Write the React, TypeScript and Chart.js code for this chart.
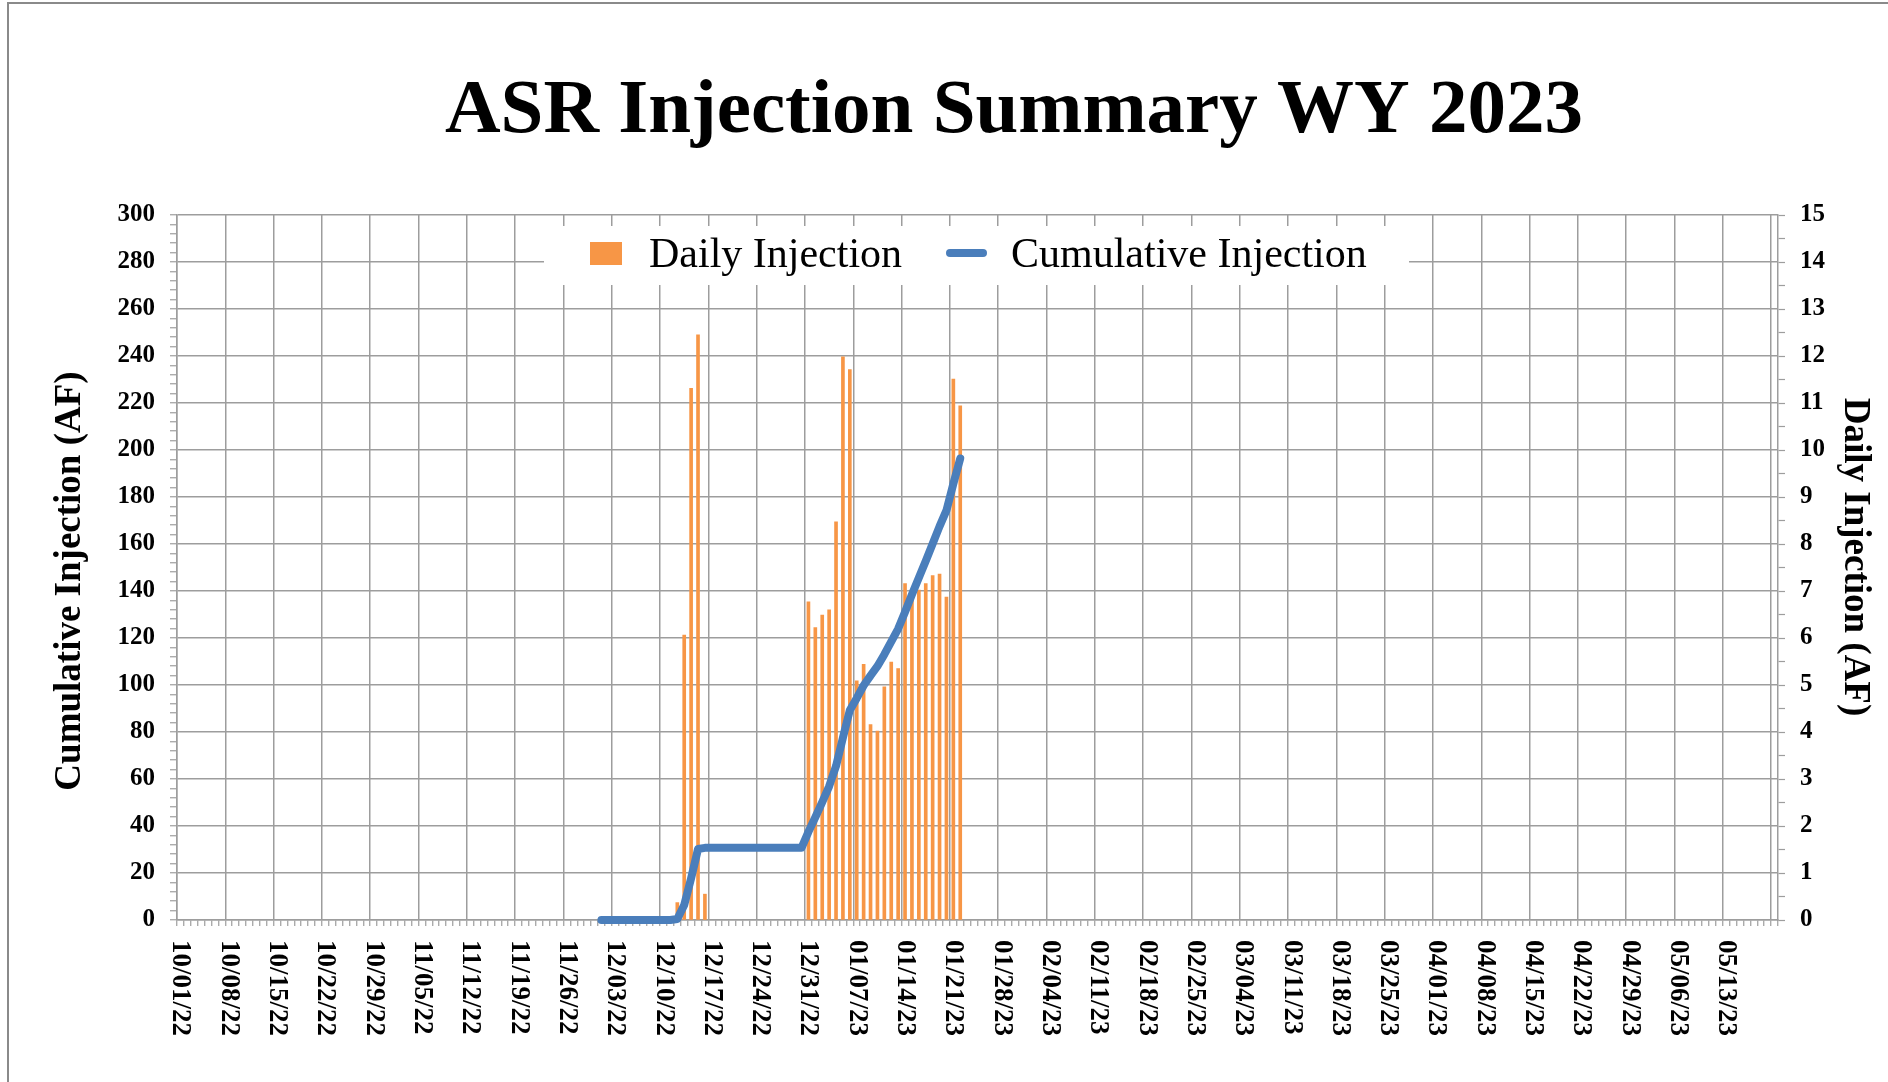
import React, { useEffect, useRef } from 'react';
import { Chart, registerables } from 'chart.js';

Chart.register(...registerables);

// ---------- data ----------
const xTickLabels = [
  '10/01/22', '10/08/22', '10/15/22', '10/22/22', '10/29/22', '11/05/22', '11/12/22',
  '11/19/22', '11/26/22', '12/03/22', '12/10/22', '12/17/22', '12/24/22', '12/31/22',
  '01/07/23', '01/14/23', '01/21/23', '01/28/23', '02/04/23', '02/11/23', '02/18/23',
  '02/25/23', '03/04/23', '03/11/23', '03/18/23', '03/25/23', '04/01/23', '04/08/23',
  '04/15/23', '04/22/23', '04/29/23', '05/06/23', '05/13/23',
];
const axisStartDate = '10/01/22';
const axisEndDate = '05/20/23';

const dailyDates = [
  '12/12/22', '12/13/22', '12/14/22', '12/15/22', '12/16/22',
  '12/31/22', '01/01/23', '01/02/23', '01/03/23', '01/04/23', '01/05/23', '01/06/23',
  '01/07/23', '01/08/23', '01/09/23', '01/10/23', '01/11/23', '01/12/23', '01/13/23',
  '01/14/23', '01/15/23', '01/16/23', '01/17/23', '01/18/23', '01/19/23', '01/20/23',
  '01/21/23', '01/22/23',
];
const dailyValues = [
  0.37, 6.06, 11.31, 12.45, 0.55,
  6.77, 6.22, 6.49, 6.60, 8.47, 11.98, 11.71,
  5.09, 5.44, 4.16, 4.02, 4.96, 5.49, 5.35,
  7.16, 7.0, 7.02, 7.16, 7.33, 7.36, 6.87,
  11.51, 10.94,
];

const cumulativeStartDate = '12/01/22';
const cumulativeValues = [
  0, 0, 0, 0, 0, 0, 0, 0, 0, 0, 0,
  0.4, 6.4, 17.8, 30.2,
  30.7, 30.7, 30.7, 30.7, 30.7, 30.7, 30.7, 30.7, 30.7, 30.7, 30.7, 30.7, 30.7, 30.7, 30.7,
  37.5, 43.7, 50.2, 56.9, 65.5, 77.6, 89.3,
  94.4, 99.8, 104.0, 108.0, 113.0, 118.5, 123.9,
  131.1, 138.5, 145.6, 152.8, 160.1, 167.5, 174.3,
  185.6, 196.4,
];

const leftMax = 300;
const leftMajor = 20;
const leftMinor = 4;
const rightMax = 15;
const rightMinor = 0.5;

// ---------- style ----------
const SERIF = '"Liberation Serif", "Times New Roman", Times, serif';
const GRID = '#9d9d9d';
const BAR = '#F79646';
const LINE = '#4A7EBB';

function dayIndex(s: string): number {
  const [m, d, y] = s.split('/').map(Number);
  const [m0, d0, y0] = axisStartDate.split('/').map(Number);
  return Math.round((Date.UTC(2000 + y, m - 1, d) - Date.UTC(2000 + y0, m0 - 1, d0)) / 86400000);
}

const decorPlugin = {
  id: 'decor',
  afterDraw(chart: any) {
    const ctx = chart.ctx as CanvasRenderingContext2D;
    const xs = chart.scales.x;
    ctx.save();

    // outer frame (top + left edges visible)
    ctx.strokeStyle = '#8a8a8a';
    ctx.lineWidth = 2;
    ctx.beginPath();
    ctx.moveTo(8, 1082);
    ctx.lineTo(8, 3);
    ctx.lineTo(1888, 3);
    ctx.stroke();

    // title
    ctx.fillStyle = '#000';
    ctx.font = `bold 77px ${SERIF}`;
    ctx.textAlign = 'left';
    ctx.textBaseline = 'alphabetic';
    ctx.fillText('ASR Injection Summary WY 2023', 445, 132);

    // x tick labels (rotated clockwise)
    ctx.font = `bold 27px ${SERIF}`;
    ctx.textBaseline = 'middle';
    ctx.textAlign = 'left';
    for (const lab of xTickLabels) {
      const px = xs.getPixelForValue(dayIndex(lab));
      ctx.save();
      ctx.translate(px, 940);
      ctx.rotate(Math.PI / 2);
      ctx.fillText(lab, 0, 0);
      ctx.restore();
    }

    // axis titles
    ctx.font = `bold 37px ${SERIF}`;
    ctx.textAlign = 'center';
    ctx.textBaseline = 'middle';
    ctx.save();
    ctx.translate(70, 581);
    ctx.rotate(-Math.PI / 2);
    ctx.fillText('Cumulative Injection (AF)', 0, 0);
    ctx.restore();
    ctx.save();
    ctx.translate(1855, 557);
    ctx.rotate(Math.PI / 2);
    ctx.fillText('Daily Injection (AF)', 0, 0);
    ctx.restore();

    // legend
    ctx.fillStyle = '#ffffff';
    ctx.fillRect(544, 226, 865, 59);
    ctx.fillStyle = BAR;
    ctx.fillRect(590, 242, 32, 23);
    ctx.strokeStyle = LINE;
    ctx.lineWidth = 8;
    ctx.lineCap = 'round';
    ctx.beginPath();
    ctx.moveTo(950, 253);
    ctx.lineTo(983, 253);
    ctx.stroke();
    ctx.fillStyle = '#000';
    ctx.font = `42px ${SERIF}`;
    ctx.textAlign = 'left';
    ctx.textBaseline = 'alphabetic';
    ctx.fillText('Daily Injection', 649, 267);
    ctx.fillText('Cumulative Injection', 1011, 267);

    ctx.restore();
  },
};

export default function App() {
  const ref = useRef<HTMLCanvasElement | null>(null);

  useEffect(() => {
    if (!ref.current) return;
    const cumStart = dayIndex(cumulativeStartDate);
    const chart = new Chart(ref.current, {
      type: 'bar',
      data: {
        datasets: [
          {
            type: 'line',
            label: 'Cumulative Injection',
            data: cumulativeValues.map((v, i) => ({ x: cumStart + i, y: v })),
            yAxisID: 'y',
            borderColor: LINE,
            backgroundColor: LINE,
            borderWidth: 8,
            pointRadius: 0,
            tension: 0,
            borderCapStyle: 'round',
            borderJoinStyle: 'round',
            clip: false,
            order: 0,
          } as any,
          {
            type: 'bar',
            label: 'Daily Injection',
            data: dailyDates.map((d, i) => ({ x: dayIndex(d), y: dailyValues[i] })),
            yAxisID: 'y1',
            backgroundColor: BAR,
            borderWidth: 0,
            barThickness: 3,
            order: 1,
          } as any,
        ],
      },
      options: {
        responsive: false,
        animation: false,
        devicePixelRatio: 1,
        layout: { padding: { top: 215, left: 0, right: 0, bottom: 0 } },
        plugins: {
          legend: { display: false },
          title: { display: false },
          tooltip: { enabled: false },
        },
        scales: {
          x: {
            type: 'linear',
            position: 'bottom',
            min: 0,
            max: dayIndex(axisEndDate),
            ticks: { stepSize: 1, autoSkip: false, display: false },
            grid: {
              color: (c: any) => (c.tick && Math.round(c.tick.value) % 7 === 0 ? GRID : 'rgba(0,0,0,0)'),
              tickColor: GRID,
              lineWidth: 1.5,
              tickWidth: 1.2,
              tickLength: 6,
              drawTicks: true,
            },
            border: { display: true, color: GRID, width: 1.5 },
            afterFit: (s: any) => { s.height = 162; },
          },
          y: {
            type: 'linear',
            position: 'left',
            min: 0,
            max: leftMax,
            ticks: {
              stepSize: leftMinor,
              autoSkip: false,
              padding: 15,
              color: '#000',
              font: { family: SERIF, size: 25, weight: 'bold' },
              callback: (v: any) => (Math.round(Number(v)) % leftMajor === 0 ? String(v) : ''),
            },
            grid: {
              color: (c: any) => (c.tick && Math.round(c.tick.value) % leftMajor === 0 ? GRID : 'rgba(0,0,0,0)'),
              tickColor: GRID,
              lineWidth: 1.5,
              tickWidth: 1.2,
              tickLength: 7,
            },
            border: { display: true, color: GRID, width: 1.5 },
            afterFit: (s: any) => { s.width = 177; },
          },
          y1: {
            type: 'linear',
            position: 'right',
            min: 0,
            max: rightMax,
            ticks: {
              stepSize: rightMinor,
              autoSkip: false,
              padding: 15,
              color: '#000',
              font: { family: SERIF, size: 25, weight: 'bold' },
              callback: (v: any) => (Number.isInteger(Number(v)) ? String(v) : ''),
            },
            grid: {
              drawOnChartArea: false,
              tickColor: GRID,
              tickWidth: 1.2,
              tickLength: 7,
            },
            border: { display: true, color: GRID, width: 1.5 },
            afterFit: (s: any) => { s.width = 110; },
          },
        },
      } as any,
      plugins: [decorPlugin],
    });
    return () => chart.destroy();
  }, []);

  return (
    <div style={{ position: 'absolute', left: 0, top: 0, width: 1888, height: 1082, background: '#fff' }}>
      <canvas ref={ref} width={1888} height={1082} style={{ display: 'block', width: 1888, height: 1082 }} />
    </div>
  );
}
